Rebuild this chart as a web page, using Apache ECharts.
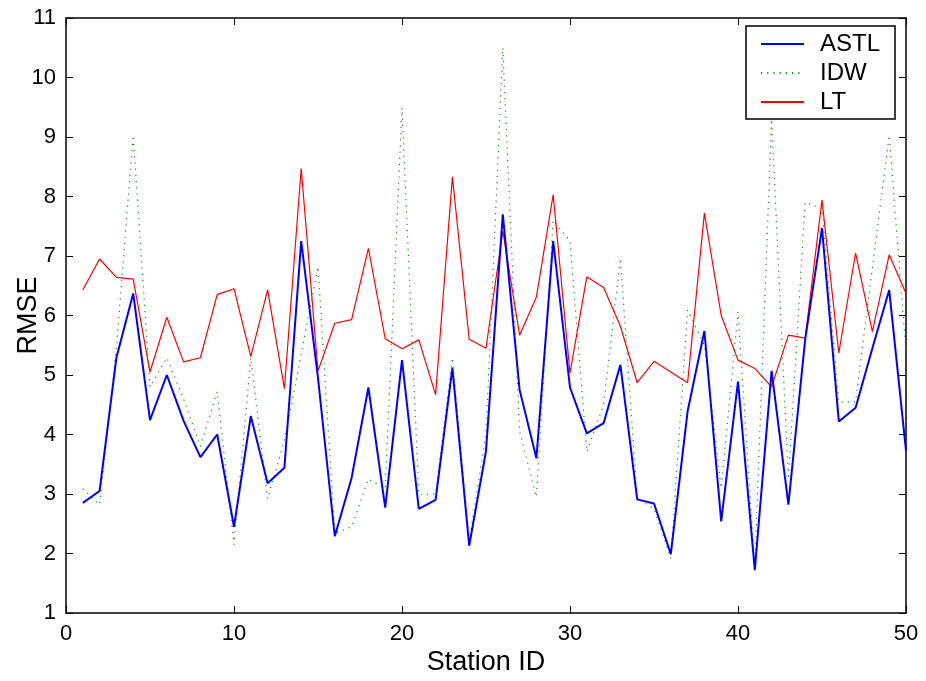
<!DOCTYPE html>
<html>
<head>
<meta charset="utf-8">
<script src="https://cdn.jsdelivr.net/npm/echarts@6/dist/echarts.min.js"></script>
<style>
html,body{margin:0;padding:0;background:#fff;}
#chart{width:926px;height:681px;}
</style>
</head>
<body>
<div id="chart"></div>
<script>
var stations = [1,2,3,4,5,6,7,8,9,10,11,12,13,14,15,16,17,18,19,20,21,22,23,24,25,26,27,28,29,30,31,32,33,34,35,36,37,38,39,40,41,42,43,44,45,46,47,48,49,50];
var astl = [2.85,3.05,5.29,6.37,4.24,5.0,4.23,3.62,4.0,2.45,4.31,3.18,3.44,7.25,4.95,2.29,3.27,4.79,2.77,5.25,2.75,2.9,5.12,2.13,3.72,7.7,4.75,3.6,7.25,4.79,4.02,4.19,5.17,2.91,2.84,1.99,4.39,5.74,2.54,4.89,1.72,5.07,2.82,5.6,7.47,4.22,4.45,5.45,6.43,3.73];
var idw = [3.09,2.82,5.45,9.03,4.8,5.29,4.6,3.8,4.72,2.15,5.29,2.92,3.9,5.35,6.82,2.34,2.45,3.25,3.09,9.49,2.99,3.0,5.29,2.22,4.0,10.5,4.05,2.95,7.6,7.25,3.71,4.5,6.96,2.93,2.75,1.92,6.09,5.5,3.1,6.06,1.78,9.3,3.25,7.9,7.8,4.55,4.55,6.8,9.03,5.4];
var lt = [6.43,6.95,6.64,6.61,5.05,5.97,5.22,5.29,6.35,6.45,5.31,6.43,4.77,8.47,5.07,5.87,5.93,7.13,5.61,5.44,5.59,4.67,8.33,5.6,5.45,7.42,5.67,6.31,8.03,5.03,6.65,6.47,5.82,4.87,5.23,5.05,4.87,7.72,6.0,5.25,5.11,4.8,5.67,5.62,7.94,5.37,7.05,5.73,7.02,6.37];
var seriesNames = ['ASTL','IDW','LT'];
var xTicks = {min:0, max:50, step:10};
var yTicks = {min:1, max:11, step:1};

function pairs(vals){ return stations.map(function(s,i){ return [s, vals[i]]; }); }

var FONT = "'Liberation Sans', Arial, Helvetica, sans-serif";
var chart = echarts.init(document.getElementById('chart'), null, {renderer:'canvas'});
var axisLine = {show:true, onZero:false, lineStyle:{color:'#000', width:1.5}};
var tick = {show:true, inside:true, length:7, lineStyle:{color:'#000', width:1}};
chart.setOption({
  animation:false,
  backgroundColor:'#fff',
  grid:{left:66, right:20, top:18, bottom:68, containLabel:false, outerBoundsMode:'none'},
  legend:{
    orient:'vertical', left:746, top:26,
    data: seriesNames,
    backgroundColor:'#fff',
    borderColor:'#000', borderWidth:1.5,
    padding:[6,15,5,14],
    itemWidth:43, itemHeight:14, itemGap:5,
    itemStyle:{opacity:0},
    textStyle:{fontFamily:FONT, fontSize:24, color:'#000', lineHeight:24, padding:[0,0,0,11]}
  },
  xAxis:[
    {type:'value', min:xTicks.min, max:xTicks.max, interval:xTicks.step, position:'bottom',
     axisLine:axisLine, axisTick:tick, splitLine:{show:false},
     axisLabel:{color:'#000', fontFamily:FONT, fontSize:22, margin:10},
     name:'Station ID', nameLocation:'middle', nameGap:36, nameMoveOverlap:false,
     nameTextStyle:{color:'#000', fontFamily:FONT, fontSize:27}},
    {type:'value', min:xTicks.min, max:xTicks.max, interval:xTicks.step, position:'top',
     axisLine:axisLine, axisTick:tick, splitLine:{show:false}, axisLabel:{show:false}}
  ],
  yAxis:[
    {type:'value', min:yTicks.min, max:yTicks.max, interval:yTicks.step, position:'left',
     axisLine:axisLine, axisTick:tick, splitLine:{show:false},
     axisLabel:{color:'#000', fontFamily:FONT, fontSize:22, margin:10},
     name:'RMSE', nameLocation:'middle', nameGap:24, nameRotate:90, nameMoveOverlap:false,
     nameTextStyle:{color:'#000', fontFamily:FONT, fontSize:27}},
    {type:'value', min:yTicks.min, max:yTicks.max, interval:yTicks.step, position:'right',
     axisLine:axisLine, axisTick:tick, splitLine:{show:false}, axisLabel:{show:false}}
  ],
  series:[
    {name:'ASTL', type:'line', data:pairs(astl), symbol:'none', z:3,
     lineStyle:{color:'#0000ff', width:2}, itemStyle:{color:'#0000ff'}},
    {name:'IDW', type:'line', data:pairs(idw), symbol:'none', z:1,
     lineStyle:{color:'#1a8c1a', width:1.2, type:[1.2,5]}, itemStyle:{color:'#1a8c1a'}},
    {name:'LT', type:'line', data:pairs(lt), symbol:'none', z:2,
     lineStyle:{color:'#ff0000', width:1.2}, itemStyle:{color:'#ff0000'}}
  ]
});
</script>
</body>
</html>
